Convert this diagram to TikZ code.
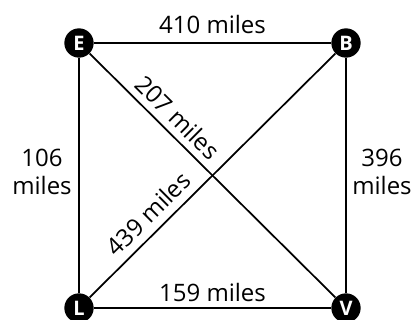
\documentclass[tikz,border=0pt]{standalone}
\usepackage{fontspec}
\setmainfont{Open Sans}
\usetikzlibrary{positioning}

\begin{document}
\begin{tikzpicture}[
    x=0.75pt, y=0.75pt,
    city/.style={circle, fill=black, text=white, inner sep=0pt, minimum size=22pt,
                 font=\fontsize{15}{15}\selectfont\bfseries},
    road/.style={line width=1.3pt},
    dist/.style={font=\fontsize{18}{21}\selectfont, align=center}
]

\useasboundingbox (0,0) rectangle (412,320);

\node[city] (E) at (79, 277) {E};
\node[city] (B) at (346, 277) {B};
\node[city] (L) at (79, 12) {L};
\node[city] (V) at (346, 12) {V};

\draw[road] (E) -- (B) node[dist, midway, above=3pt] {410 miles};
\draw[road] (L) -- (V) node[dist, midway, above=1pt] {159 miles};
\draw[road] (E) -- (L);
\draw[road] (B) -- (V);
\draw[road] (E) -- (V) node[dist, pos=0.31, sloped, above, inner sep=5pt] {207 miles};
\draw[road] (L) -- (B) node[dist, pos=0.29, sloped, above, inner sep=6pt] {439 miles};

\node[dist] (left) at (42, 148) {106\\miles};
\node[dist] (right) at (382, 148) {396\\miles};

\end{tikzpicture}
\end{document}
